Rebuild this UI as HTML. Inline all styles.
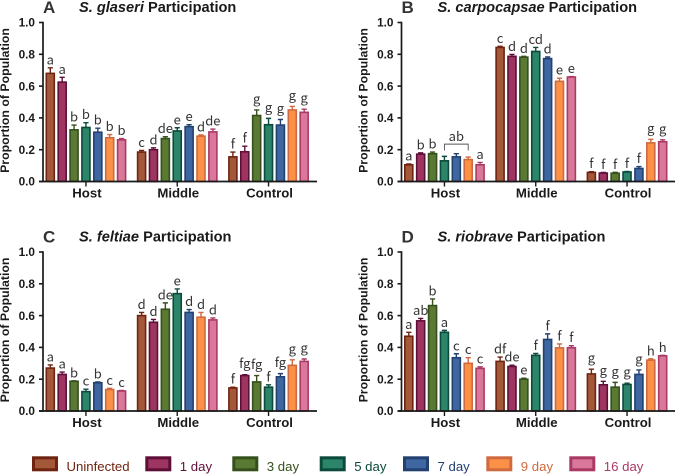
<!DOCTYPE html>
<html lang="en">
<head>
<meta charset="utf-8">
<title>Participation charts</title>
<style>
html,body{margin:0;padding:0;background:#fff;width:675px;height:474px;overflow:hidden}
svg{display:block}
text{font-family:"Liberation Sans",sans-serif}
.letter{font-family:"Noto Sans CJK JP","Liberation Sans",sans-serif;font-size:13px;fill:#333}
.tick{font-size:11.8px;font-weight:bold;fill:#1a1a1a}
.cat{font-size:13.2px;font-weight:bold;fill:#1a1a1a}
.ytitle{font-size:12.3px;font-weight:bold;fill:#1a1a1a}
.title{font-size:14.6px;font-weight:bold;fill:#1a1a1a}
.panel{font-size:17px;font-weight:bold;fill:#333}
.leg{font-size:13.2px}
</style>
</head>
<body>
<svg id="chart" xmlns="http://www.w3.org/2000/svg" width="675" height="474" viewBox="0 0 675 474"></svg>
<script>
const seriesNames = ['Uninfected','1 day','3 day','5 day','7 day','9 day','16 day'];
const groupNames = ['Host','Middle','Control'];
const yTicks = [0,0.2,0.4,0.6,0.8,1.0];
const fills = ['#a4583a','#9e3560','#5a7a34','#2d8569','#3e66a0','#fb9146','#d9789a'];
const strokes = ['#6e2410','#5e0f38','#35501c','#0b4a3c','#224070','#cf6a40','#aa3a64'];

const valuesA = [[.68,.625,.325,.34,.31,.275,.262],[.185,.2,.27,.318,.345,.285,.312],[.155,.187,.415,.357,.355,.45,.435]];
const errorsA = [[.035,.03,.03,.03,.025,.02,.008],[.01,.012,.012,.02,.012,.008,.018],[.03,.035,.035,.04,.035,.022,.02]];
const lettersA = [['a','a','b','b','b','b','b'],['c','d','de','e','e','d','de'],['f','f','g','g','g','g','g']];

const valuesB = [[.105,.172,.175,.13,.155,.138,.105],[.843,.787,.782,.818,.773,.63,.657],[.057,.053,.052,.06,.082,.243,.25]];
const errorsB = [[.005,.008,.01,.028,.02,.016,.015],[.007,.012,.005,.025,.01,.02,.003],[.005,.004,.006,.003,.012,.022,.012]];
const lettersB = [['a','b','b','','','','a'],['c','d','d','cd','d','e','e'],['f','f','f','f','f','g','g']];

const valuesC = [[.27,.23,.187,.122,.178,.135,.126],[.6,.558,.64,.738,.62,.59,.573],[.145,.223,.183,.15,.215,.287,.312]];
const errorsC = [[.02,.015,.003,.015,.005,.008,.003],[.02,.018,.04,.03,.018,.03,.012],[.005,.005,.04,.015,.02,.035,.015]];
const lettersC = [['a','a','b','c','b','c','c'],['d','d','de','e','d','d','d'],['f','fg','fg','f','fg','g','g']];

const valuesD = [[.47,.567,.663,.495,.335,.3,.268],[.312,.28,.2,.35,.45,.397,.398],[.233,.165,.15,.167,.23,.32,.347]];
const errorsD = [[.025,.015,.042,.012,.025,.035,.01],[.027,.008,.006,.012,.035,.025,.013],[.03,.022,.03,.008,.028,.008,.003]];
const lettersD = [['a','ab','b','a','c','c','c'],['df','de','e','f','f','f','f'],['g','g','g','g','g','h','h']];

const svg = document.getElementById('chart');
const NS = 'http://www.w3.org/2000/svg';
function mk(tag, attrs, txt){
  const e = document.createElementNS(NS, tag);
  for (const k in attrs) e.setAttribute(k, attrs[k]);
  if (txt !== undefined) e.textContent = txt;
  return e;
}

function drawPanel(p){
  const g = mk('g', {});
  
  
  svg.appendChild(g);
  const yOf = v => p.y0 - v * (p.y0 - p.y1);
  const xOf = (gi, si) => p.ax + 7.3 + gi * 91.3 + si * 11.88;
  const barW = 8;

  const letterEl = mk('text', {x: p.ax, y: p.y1 - 9.5, class: 'panel'}, p.key);
  
  
  g.appendChild(letterEl);

  const titleEl = mk('text', {x: p.ax + 36, y: p.y1 - 10.5, class: 'title'});
  
  
  const it = mk('tspan', {'font-style': 'italic'}, p.species);
  titleEl.appendChild(it);
  titleEl.appendChild(mk('tspan', {}, ' Participation'));
  g.appendChild(titleEl);

  const yTitle = mk('text', {transform: 'translate(' + (p.ax - 34) + ',' + (p.y0 - 81) + ') rotate(-90)', 'text-anchor': 'middle', class: 'ytitle'}, 'Proportion of Population');
  
  
  g.appendChild(yTitle);

  yTicks.forEach(t => {
    const ln = mk('line', {x1: p.ax - 4, x2: p.ax, y1: yOf(t), y2: yOf(t), stroke: '#1a1a1a', 'stroke-width': 1.6});
    
    
    g.appendChild(ln);
    const lb = mk('text', {x: p.ax - 8, y: yOf(t) + 4.2, 'text-anchor': 'end', class: 'tick'}, t.toFixed(1));
    
    
    g.appendChild(lb);
  });

  p.values.forEach((grp, gi) => {
    grp.forEach((v, si) => {
      const cx = xOf(gi, si);
      const top = yOf(v + p.errors[gi][si]);
      const col = strokes[si];
      const eb = mk('path', {d: 'M' + cx + ' ' + yOf(v) + 'V' + top + 'M' + (cx - 2.6) + ' ' + top + 'H' + (cx + 2.6), stroke: col, 'stroke-width': 1.4, fill: 'none'});
      
      
      g.appendChild(eb);
      const r = mk('rect', {x: cx - barW / 2, y: yOf(v), width: barW, height: p.y0 - yOf(v), fill: fills[si], stroke: col, 'stroke-width': 1.6});
      
      
      g.appendChild(r);
      const s = p.letters[gi][si];
      if (s) {
        const lift = s.indexOf('g') >= 0 ? 6.5 : 3.5;
        const t = mk('text', {x: cx, y: top - lift, 'text-anchor': 'middle', class: 'letter'}, s);
        
        
        g.appendChild(t);
      }
    });
    const gx = xOf(gi, 3);
    const gt = mk('line', {x1: gx, x2: gx, y1: p.y0, y2: p.y0 + 5, stroke: '#1a1a1a', 'stroke-width': 1.4});
    
    
    g.appendChild(gt);
    const gl = mk('text', {x: gx + 1, y: p.y0 + 16, 'text-anchor': 'middle', class: 'cat'}, groupNames[gi]);
    
    
    g.appendChild(gl);
  });

  const yAxis = mk('line', {x1: p.ax, x2: p.ax, y1: p.y1 - 0.8, y2: p.y0 + 0.8, stroke: '#1a1a1a', 'stroke-width': 1.7});
  
  
  g.appendChild(yAxis);
  const xAxis = mk('line', {x1: p.ax - 4, x2: p.ax + 274, y1: p.y0, y2: p.y0, stroke: '#1a1a1a', 'stroke-width': 1.7});
  
  
  g.appendChild(xAxis);

  if (p.bracket) {
    const b = p.bracket;
    const xa = xOf(b.group, b.from), xb = xOf(b.group, b.to), yb = yOf(b.level), ye = yOf(b.level - b.drop);
    const br = mk('path', {d: 'M' + xa + ' ' + ye + 'V' + yb + 'H' + xb + 'V' + ye, fill: 'none', stroke: '#555', 'stroke-width': 0.9});
    
    
    g.appendChild(br);
    const bl = mk('text', {x: (xa + xb) / 2, y: yb - 3, 'text-anchor': 'middle', class: 'letter'}, b.label);
    
    
    g.appendChild(bl);
  }
}

drawPanel({key: 'A', species: 'S. glaseri', ax: 43, y0: 181.5, y1: 22.5, values: valuesA, errors: errorsA, letters: lettersA});
drawPanel({key: 'B', species: 'S. carpocapsae', ax: 401.5, y0: 181.5, y1: 22.5, values: valuesB, errors: errorsB, letters: lettersB, bracket: {group: 0, from: 3, to: 5, level: .235, drop: .04, label: 'ab'}});
drawPanel({key: 'C', species: 'S. feltiae', ax: 43, y0: 411, y1: 252, values: valuesC, errors: errorsC, letters: lettersC});
drawPanel({key: 'D', species: 'S. riobrave', ax: 401.5, y0: 411, y1: 252, values: valuesD, errors: errorsD, letters: lettersD});

const legendSwatchLeft = [32, 145.3, 232.3, 319.7, 403, 486.3, 569.3];
const legend = mk('g', {});


svg.appendChild(legend);
seriesNames.forEach((n, i) => {
  const x = legendSwatchLeft[i];
  const r = mk('rect', {x: x + 1.5, y: 457.8, width: 23, height: 12, fill: fills[i], stroke: strokes[i], 'stroke-width': 3});
  
  
  legend.appendChild(r);
  const t = mk('text', {x: x + 34.5, y: 471, class: 'leg', fill: strokes[i]}, n);
  
  
  legend.appendChild(t);
});
</script>
</body>
</html>
